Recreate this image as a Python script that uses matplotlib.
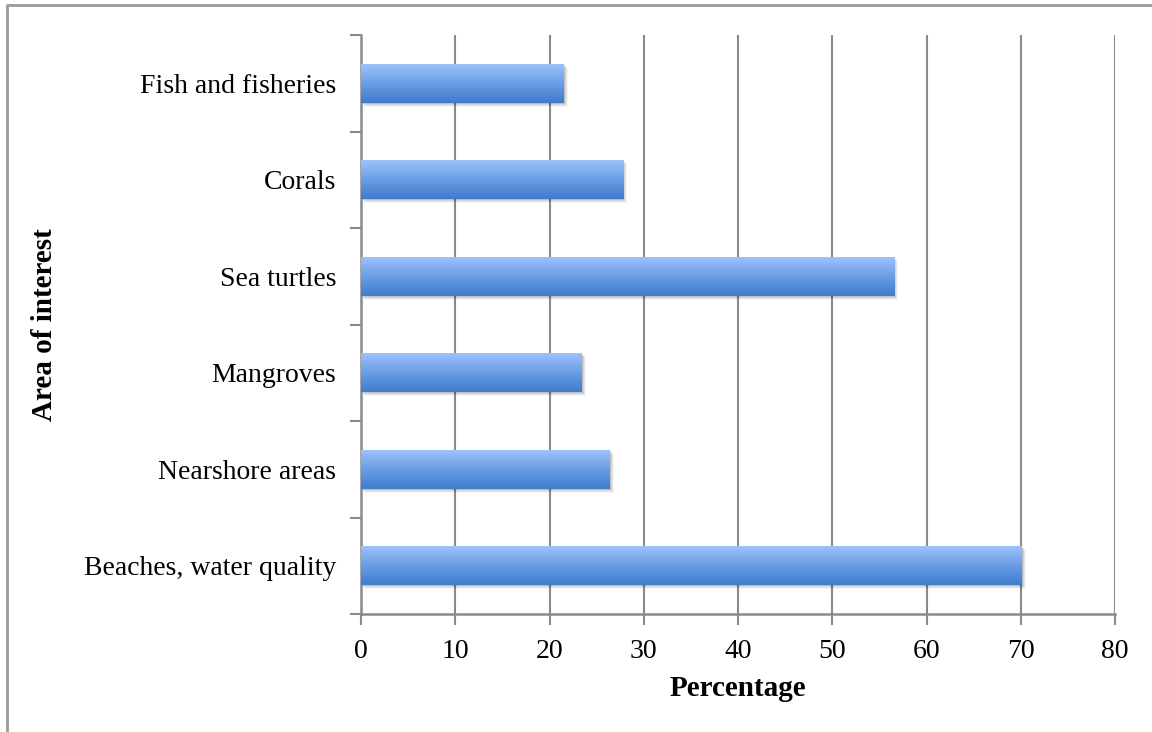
import numpy as np
import matplotlib
matplotlib.use("Agg")
import matplotlib.pyplot as plt
from matplotlib.lines import Line2D
from matplotlib.patches import Rectangle
from matplotlib.colors import LinearSegmentedColormap
import matplotlib.transforms as mtransforms

# survey responses, bottom to top
areas = ["Beaches, water quality", "Nearshore areas", "Mangroves",
         "Sea turtles", "Corals", "Fish and fisheries"]
percent = [70.1, 26.4, 23.4, 56.6, 27.8, 21.5]
x_ticks = [0, 10, 20, 30, 40, 50, 60, 70, 80]

plt.rcParams["font.family"] = ["Liberation Serif", "DejaVu Serif"]
grey = "#8a8a8a"

fig = plt.figure(figsize=(11.52, 7.32), dpi=100)
ax = fig.add_axes([361 / 1152, 1 - 614 / 732, 754 / 1152, 579 / 732])

ypos = np.arange(len(areas))
bar_h = 0.4

# light-to-dark vertical gradient like the office chart style
cmap = LinearSegmentedColormap.from_list("barblue", ["#3f7ccc", "#6a9de6", "#9cc2fb"])
grad = np.linspace(0, 1, 64).reshape(-1, 1)

for y, v in zip(ypos, percent):
    # soft drop shadow, a few stacked translucent rects
    for dx, dy, a in [(1, -1, 0.10), (2, -2, 0.08), (3, -3, 0.06), (4, -4, 0.04)]:
        tr = mtransforms.offset_copy(ax.transData, fig=fig, x=dx, y=dy, units="dots")
        ax.add_patch(Rectangle((0, y - bar_h / 2), v, bar_h, transform=tr,
                               facecolor="#000000", alpha=a, edgecolor="none", zorder=2))
    ax.imshow(grad, cmap=cmap, aspect="auto", origin="lower",
              extent=[0, v, y - bar_h / 2, y + bar_h / 2], zorder=3,
              interpolation="bilinear")

ax.set_xlim(0, 80)
ax.set_ylim(-0.5, len(areas) - 0.5)

ax.set_xticks(x_ticks)
ax.set_xticklabels([str(t) for t in x_ticks], fontsize=20)
ax.xaxis.grid(True, color=grey, linewidth=1.5, zorder=0)
ax.set_axisbelow(True)

# category labels sit between the boundary ticks
ax.set_yticks(np.arange(-0.5, len(areas), 1.0))
ax.set_yticklabels([])
ax.set_yticks(ypos, minor=True)
ax.set_yticklabels(areas, minor=True, fontsize=20)
ax.tick_params(axis="y", which="minor", length=0, pad=18)
ax.tick_params(axis="y", which="major", length=8, width=1.5, color=grey)
ax.tick_params(axis="x", length=8, width=1.5, color=grey, pad=10)

for side in ["top", "right"]:
    ax.spines[side].set_visible(False)
for side in ["left", "bottom"]:
    ax.spines[side].set_color(grey)
    ax.spines[side].set_linewidth(1.8)

ax.set_xlabel("Percentage", fontsize=21, fontweight="bold", labelpad=8)
fig.text(45 / 1152, 1 - 325 / 732, "Area of interest", rotation=90, fontsize=21,
         fontweight="bold", ha="center", va="center")

# outer chart frame
fig.add_artist(Line2D([7 / 1152, 7 / 1152, 1.0], [0.0, 1 - 5 / 732, 1 - 5 / 732],
                      transform=fig.transFigure, color="#9a9a9a", linewidth=2))

fig.savefig("out.png", dpi=100)
